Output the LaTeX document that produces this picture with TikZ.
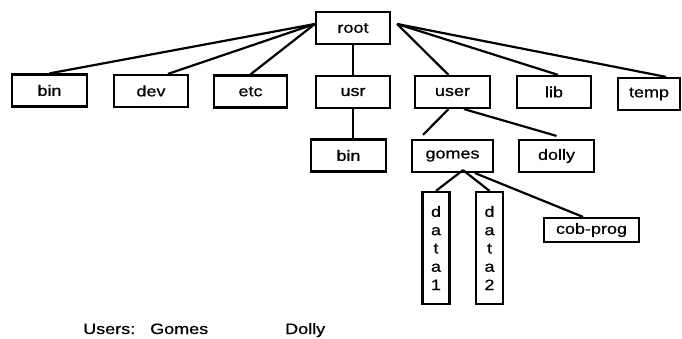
\documentclass[tikz,border=0pt]{standalone}
\usepackage{fontspec}
\setmainfont{Liberation Sans}[FakeStretch=1.2,FakeBold=0.6]
\begin{document}
\begin{tikzpicture}[x=1pt,y=-1pt,
  box/.style={draw,line width=2.2pt,inner sep=0pt,minimum width=#1,minimum height=32pt,font=\fontsize{15}{17}\selectfont},
  vbox/.style={draw,line width=2.2pt,inner sep=0pt,minimum width=27pt,minimum height=112pt,align=center,font=\fontsize{15}{18.3}\selectfont},
  link/.style={line width=2.2pt},
  lbl/.style={anchor=base west,inner sep=0pt,font=\fontsize{15}{17}\selectfont}]
\useasboundingbox (0,0) rectangle (682,339);
\node[box=74pt] (root) at (353,28) {root};
\node[box=75pt] (bin) at (49.5,90.5) {bin};
\node[box=74pt] (dev) at (151,91) {dev};
\node[box=73pt] (etc) at (250.5,91.5) {etc};
\node[box=74pt] (usr) at (353,92) {usr};
\node[box=75pt] (user) at (452.5,92) {user};
\node[box=74pt] (lib) at (554,92) {lib};
\node[box=62pt] (temp) at (649,94) {temp};
\node[box=75pt] (ubin) at (348.5,155.5) {bin};
\node[box=81pt] (gomes) at (452.5,156) {gomes};
\node[box=75pt] (dolly) at (556.5,156) {dolly};
\node[vbox] (data1) at (436,248) {d\\a\\t\\a\\1};
\node[vbox] (data2) at (489.5,248) {d\\a\\t\\a\\2};
\node[box=95pt,minimum height=24pt] (cob) at (591.5,230) {cob-prog};
\draw[link] ([yshift=4pt]root.west) -- (bin.north);
\draw[link] ([yshift=4pt]root.west) -- ([xshift=17pt]dev.north);
\draw[link] ([yshift=4pt]root.west) -- (etc.north);
\draw[link] (root.south) -- (usr.north);
\draw[link] ([xshift=6pt,yshift=4pt]root.east) -- ([xshift=-4pt]user.north);
\draw[link] ([xshift=6pt,yshift=4pt]root.east) -- ([xshift=4pt]lib.north);
\draw[link] ([xshift=6pt,yshift=4pt]root.east) -- ([xshift=17pt]temp.north);
\draw[link] (usr.south) -- (usr.south |- ubin.north);
\draw[link] ([xshift=-4pt]user.south) -- ([xshift=-29.5pt,yshift=4pt]gomes.north);
\draw[link] ([xshift=11.5pt]user.south) -- ([yshift=3pt]dolly.north);
\draw[link] ([xshift=10.5pt,yshift=3pt]gomes.south) -- (data1.north);
\draw[link] ([xshift=10.5pt,yshift=3pt]gomes.south) -- (data2.north);
\draw[link] ([xshift=22.5pt]gomes.south) -- ([xshift=-8.5pt]cob.north);
\node[lbl] (users) at (83,334) {Users:};
\node[lbl] (ugomes) at (150,334) {Gomes};
\node[lbl] (udolly) at (285,334) {Dolly};
\end{tikzpicture}
\end{document}
